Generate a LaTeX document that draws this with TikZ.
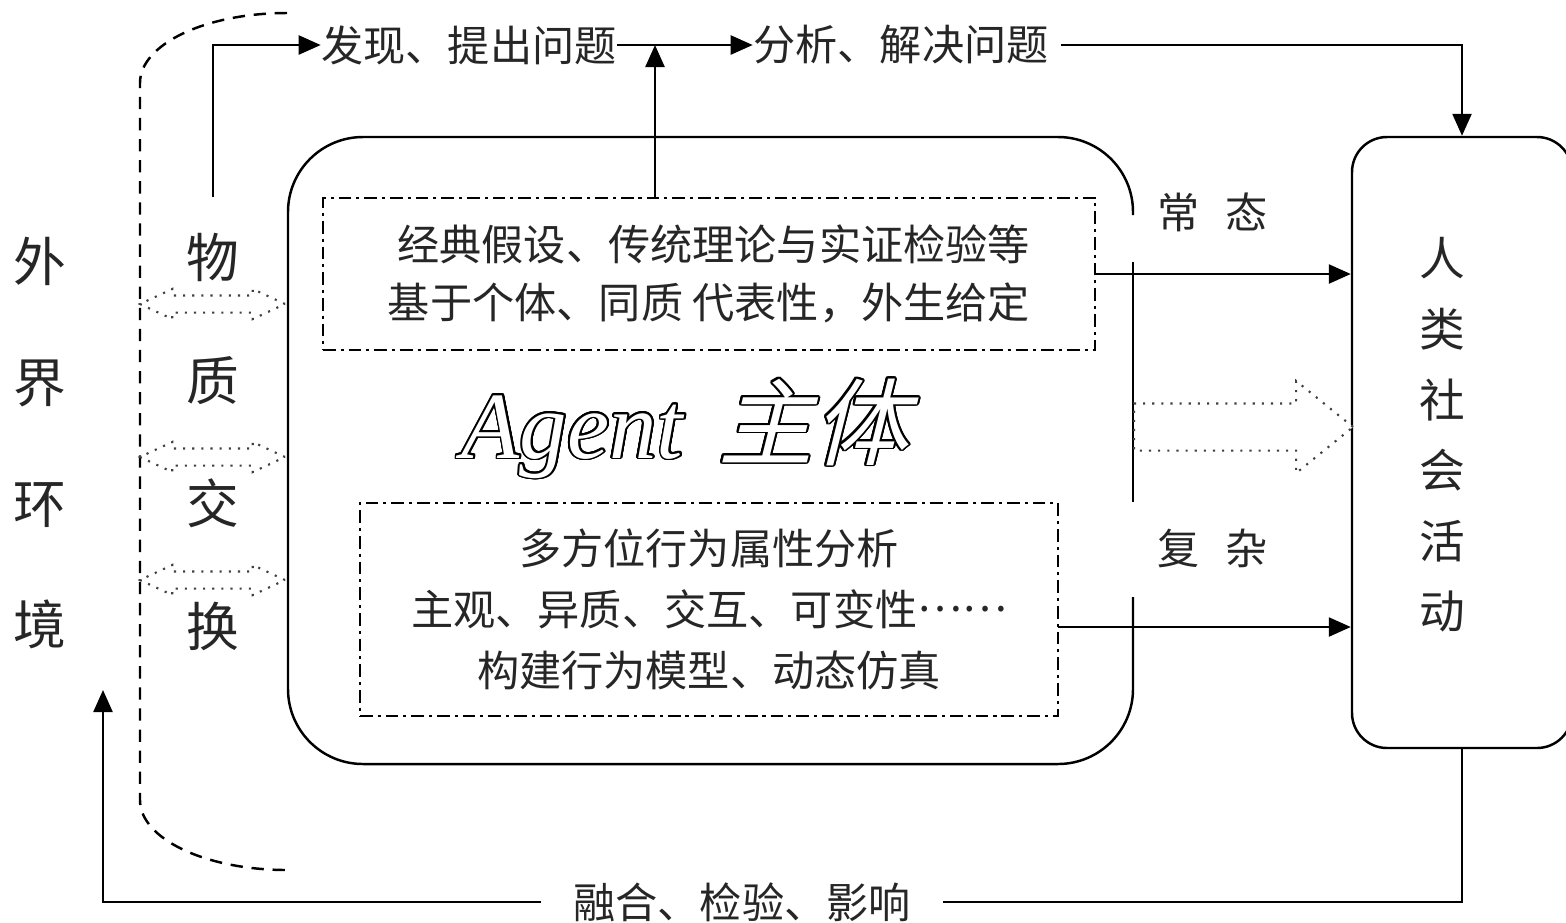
\documentclass[tikz,border=0pt]{standalone}
\usepackage{fontspec}
\usepackage{contour}
\usetikzlibrary{arrows.meta,shapes.arrows}
\newfontfamily\cjk{Noto Sans CJK SC}
\newfontfamily\cjkslant[FakeSlant=0.25]{Noto Sans CJK SC}
\newfontfamily\agentfont{Liberation Serif}
\contourlength{0.55pt}
\contournumber{24}

\begin{document}
\begin{tikzpicture}[x=0.1mm, y=0.1mm]
\tikzstyle{every node}+=[inner sep=0pt]
\tikzstyle{arr}=[-{Triangle[length=0.22cm,width=0.19cm]}, line width=0.7pt]
\tikzstyle{plain}=[line width=0.7pt]
\tikzstyle{innerframe}=[draw, line width=0.7pt, dash pattern=on 3.6pt off 1.4pt on 0.9pt off 1.4pt]
\tikzstyle{cjkword}=[font=\cjk\fontsize{12}{16.5}\selectfont, text=black!85]
\tikzstyle{swaparrow}=[double arrow, draw=black!75, dotted, fill=white, line width=0.6pt, minimum height=1.45cm, minimum width=0.1cm, inner ysep=0.075cm, double arrow head extend=0.065cm, double arrow tip angle=50]
\tikzstyle{flowarrow}=[single arrow, draw=black!75, dotted, fill=white, line width=0.6pt, minimum height=2.19cm, minimum width=0.1cm, inner ysep=0.225cm, single arrow head extend=0.225cm, single arrow tip angle=78]
\useasboundingbox (0,0) rectangle (1566,-922);
\draw [plain, dash pattern=on 3.5pt off 2.5pt] (287,-13) .. controls (206,-13) and (140,-44) .. (140,-83) -- (140,-800) .. controls (140,-839) and (206,-870) .. (287,-870);
\draw [plain, rounded corners=0.75cm] (1133,-215) -- (1133,-137) -- (288,-137) -- (288,-764) -- (1133,-764) -- (1133,-597);
\draw [plain] (1133,-262) -- (1133,-502);
\node [font=\cjk\fontsize{15}{34.5}\selectfont, text=black!85, align=center] (outside) at (40,-443) {外\\界\\环\\境};
\node [font=\cjk\fontsize{15}{35}\selectfont, text=black!85, align=center] (matter) at (213,-442) {物\\质\\交\\换};
\node [swaparrow] (swapa) at (212.5,-304) {};
\node [swaparrow] (swapb) at (212.5,-457) {};
\node [swaparrow] (swapc) at (212.5,-580) {};
\node [cjkword] (find) at (469,-45) {发现、提出问题};
\node [cjkword] (analyze) at (901,-45) {分析、解决问题};
\node [cjkword, inner xsep=0.32cm] (merge) at (742,-902) {融合、检验、影响};
\node [cjkword] (normal) at (1213,-212) {常\hspace{0.26cm}态};
\node [cjkword] (complex) at (1213,-548) {复\hspace{0.26cm}杂};
\node [innerframe, cjkword, align=right, minimum width=7.72cm, minimum height=1.52cm] (classic) at (709,-274) {经典假设、传统理论与实证检验等\\基于个体、同质 代表性，外生给定};
\node [innerframe, cjkword, font=\cjk\fontsize{12}{17.4}\selectfont, align=center, minimum width=6.98cm, minimum height=2.13cm] (model) at (709,-609.5) {多方位行为属性分析\\主观、异质、交互、可变性\raisebox{0.33em}{……}\\构建行为模型、动态仿真};
\node [anchor=base, font=\fontsize{27}{30}\selectfont] (agent) at (685,-458) {\contour{black}{\textcolor{white}{\agentfont\itshape Agent\hspace{0.35cm}\cjkslant 主体}}};
\node [draw, plain, rounded corners=0.35cm, minimum width=2.2cm, minimum height=6.11cm] (social) at (1462,-442.5) {};
\node [font=\cjk\fontsize{13}{20.1}\selectfont, text=black!85, align=center] (socialtext) at (1442,-435) {人\\类\\社\\会\\活\\动};
\node [flowarrow, anchor=tail] (flow) at (1133,-427) {};
\coordinate (matterfoot) at (213,-197);
\coordinate (classictop) at (655,-198);
\coordinate (modelout) at (1058,-627);
\coordinate (envtip) at (103,-690);
\draw [arr] (matterfoot) |- (find.west);
\draw [arr] (find.east) -- (analyze.west);
\draw [arr] (classictop) -- (classictop |- find.east);
\draw [arr] ([xshift=0.12cm]analyze.east) -| (social.north);
\draw [arr] (classic.east) -- (classic.east -| social.west);
\draw [arr] (modelout) -- (modelout -| social.west);
\draw [plain] (social.south) |- (merge.east);
\draw [arr] (merge.west) -| (envtip);
\end{tikzpicture}
\end{document}
